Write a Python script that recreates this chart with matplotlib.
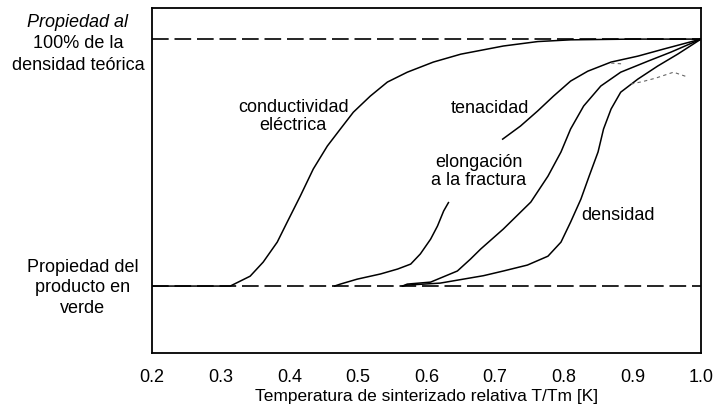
import numpy as np
import matplotlib.pyplot as plt

plt.rcParams['font.family'] = ['Liberation Sans', 'DejaVu Sans']

# datos (T/Tm, propiedad relativa 0 = verde, 1 = 100 %)
cond_x = [0.20, 0.314, 0.343, 0.362, 0.3825, 0.397, 0.416, 0.435, 0.4555, 0.4745, 0.4934, 0.518, 0.543, 0.572, 0.610, 0.650, 0.712, 0.762, 0.810, 0.90, 1.0]
cond_y = [0.0, 0.0, 0.040, 0.097, 0.178, 0.259, 0.364, 0.474, 0.567, 0.636, 0.704, 0.769, 0.826, 0.866, 0.907, 0.939, 0.972, 0.990, 0.997, 1.0, 1.0]

elong_x = [0.466, 0.4745, 0.499, 0.533, 0.558, 0.577, 0.591, 0.606, 0.616, 0.625, 0.632]
elong_y = [0.0, 0.008, 0.028, 0.049, 0.069, 0.089, 0.130, 0.190, 0.243, 0.304, 0.338]

ten_x = [0.711, 0.737, 0.762, 0.785, 0.810, 0.835, 0.869, 0.908, 0.946, 1.0]
ten_y = [0.595, 0.648, 0.709, 0.769, 0.830, 0.870, 0.907, 0.931, 0.960, 1.0]

c3_x = [0.565, 0.572, 0.606, 0.645, 0.664, 0.679, 0.712, 0.752, 0.777, 0.796, 0.810, 0.829, 0.854, 0.883, 0.923, 0.956, 1.0]
c3_y = [0.0, 0.008, 0.016, 0.061, 0.109, 0.150, 0.231, 0.340, 0.445, 0.543, 0.636, 0.729, 0.810, 0.866, 0.911, 0.947, 1.0]

dens_x = [0.565, 0.572, 0.620, 0.683, 0.712, 0.747, 0.777, 0.796, 0.810, 0.825, 0.837, 0.850, 0.858, 0.869, 0.883, 0.908, 0.937, 0.966, 1.0]
dens_y = [0.0, 0.004, 0.012, 0.042, 0.061, 0.085, 0.121, 0.178, 0.259, 0.352, 0.445, 0.543, 0.636, 0.717, 0.785, 0.838, 0.891, 0.939, 1.0]

gris1_x = [0.869, 0.888]
gris1_y = [0.903, 0.899]
gris2_x = [0.898, 0.915, 0.934, 0.960, 0.981]
gris2_y = [0.818, 0.828, 0.842, 0.866, 0.846]

fig = plt.figure(figsize=(7.15, 4.10), dpi=100)
ax = fig.add_axes([0.2126, 0.1366, 0.7678, 0.8415])

# lineas de referencia
ax.plot([0.2, 1.0], [0, 0], color='black', lw=1.2, ls=(0, (10, 3.5)))
ax.plot([0.2, 1.0], [1, 1], color='black', lw=1.2, ls=(0, (10, 3.5)))

for xs, ys in [(cond_x, cond_y), (elong_x, elong_y), (ten_x, ten_y), (c3_x, c3_y), (dens_x, dens_y)]:
    ax.plot(xs, ys, color='black', lw=1.1, solid_joinstyle='round')

ax.plot(gris1_x, gris1_y, color='0.4', lw=0.8, ls=(0, (3, 3)))
ax.plot(gris2_x, gris2_y, color='0.4', lw=0.8, ls=(0, (3, 3)))

ax.set_xlim(0.2, 1.0)
ax.set_ylim(-0.271, 1.126)
ax.set_xticks([0.2, 0.3, 0.4, 0.5, 0.6, 0.7, 0.8, 0.9, 1.0])
ax.set_xticklabels(['0.2', '0.3', '0.4', '0.5', '0.6', '0.7', '0.8', '0.9', '1.0'])
ax.set_yticks([])
ax.tick_params(axis='x', length=0, pad=11, labelsize=13)
for s in ax.spines.values():
    s.set_linewidth(1.3)
ax.set_xlabel('Temperatura de sinterizado relativa T/Tm [K]', fontsize=12.5, labelpad=2)

fs = 13
ax.text(0.406, 0.692, 'conductividad\neléctrica', ha='center', va='center', fontsize=fs, linespacing=1.1)
ax.text(0.693, 0.725, 'tenacidad', ha='center', va='center', fontsize=fs)
ax.text(0.676, 0.468, 'elongación\na la fractura', ha='center', va='center', fontsize=fs, linespacing=1.1)
ax.text(0.879, 0.29, 'densidad', ha='center', va='center', fontsize=fs)

# etiquetas del eje y
ax.text(0.092, 1.073, 'Propiedad al', ha='center', va='center', fontsize=fs, style='italic', clip_on=False)
ax.text(0.092, 0.988, '100% de la', ha='center', va='center', fontsize=fs, clip_on=False)
ax.text(0.092, 0.899, 'densidad teórica', ha='center', va='center', fontsize=fs, clip_on=False)
ax.text(0.099, 0.081, 'Propiedad del', ha='center', va='center', fontsize=fs, clip_on=False)
ax.text(0.099, 0.0, 'producto en', ha='center', va='center', fontsize=fs, clip_on=False)
ax.text(0.099, -0.085, 'verde', ha='center', va='center', fontsize=fs, clip_on=False)

fig.savefig('out.png', dpi=100)
